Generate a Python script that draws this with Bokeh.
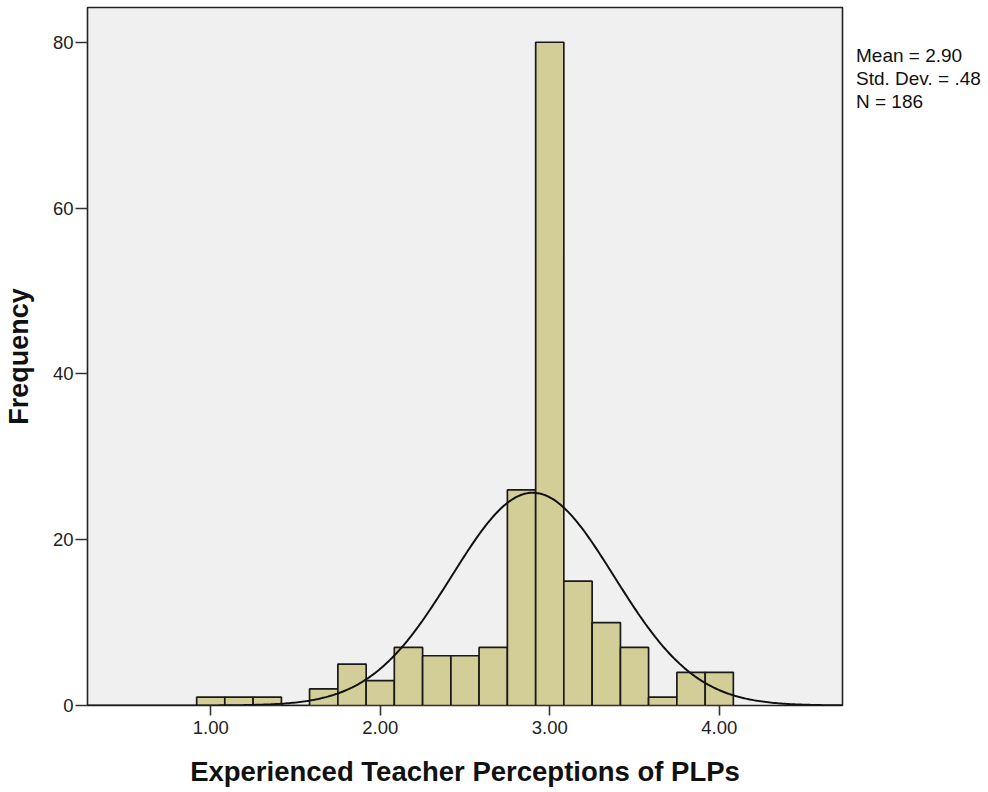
import numpy as np
from bokeh.plotting import figure
from bokeh.models import ColumnDataSource, Range1d, FixedTicker, Legend, LegendItem
from bokeh.embed import file_html
from bokeh.resources import INLINE

# ---- data ----
bin_edges = [0.917, 1.083, 1.250, 1.417, 1.583, 1.750, 1.917, 2.083, 2.250, 2.417,
             2.583, 2.750, 2.917, 3.083, 3.250, 3.417, 3.583, 3.750, 3.917, 4.083]
counts = [1, 1, 1, 0, 2, 5, 3, 7, 6, 6, 7, 26, 80, 15, 10, 7, 1, 4, 4]
x_ticks = [1.0, 2.0, 3.0, 4.0]
x_tick_labels = ["1.00", "2.00", "3.00", "4.00"]
y_ticks = [0, 20, 40, 60, 80]
stat_mean = 2.90
stat_sd = 0.48
stat_n = 186
stat_lines = ["Mean = 2.90", "Std. Dev. = .48", "N = 186"]
x_title = "Experienced Teacher Perceptions of PLPs"
y_title = "Frequency"

FONT = "Liberation Sans"

src = ColumnDataSource(dict(
    left=bin_edges[:-1],
    right=bin_edges[1:],
    top=counts,
    bottom=[0] * len(counts),
))

p = figure(
    frame_width=755, frame_height=698,
    min_border_left=81, min_border_right=136, min_border_top=7, min_border_bottom=86,
    x_range=Range1d(0.273, 4.727), y_range=Range1d(0, 84.19),
    output_backend="svg", toolbar_location=None,
    background_fill_color="#F0F0F0", border_fill_color="white",
)

p.quad(left="left", right="right", top="top", bottom="bottom", source=src,
       fill_color="#D3CE97", line_color="#1a1a1a", line_width=1.7)

# normal curve scaled to the histogram
bw = bin_edges[1] - bin_edges[0]
xs = np.linspace(0.273, 4.727, 400)
ys = stat_n * bw / (stat_sd * np.sqrt(2 * np.pi)) * np.exp(-0.5 * ((xs - stat_mean) / stat_sd) ** 2)
p.line(xs, ys, line_color="#111111", line_width=2)

p.xgrid.visible = False
p.ygrid.visible = False
p.outline_line_color = "#222222"
p.outline_line_width = 1.6

p.xaxis.ticker = FixedTicker(ticks=x_ticks)
p.xaxis.major_label_overrides = {t: l for t, l in zip(x_ticks, x_tick_labels)}
p.yaxis.ticker = FixedTicker(ticks=y_ticks)

for ax in (p.xaxis[0], p.yaxis[0]):
    ax.axis_line_color = None
    ax.minor_tick_line_color = None
    ax.major_tick_in = 0
    ax.major_tick_line_color = "#333333"
    ax.major_tick_line_width = 1.6
    ax.major_label_text_font = FONT
    ax.major_label_text_font_size = "18.5px"
    ax.major_label_text_color = "#222222"
    ax.axis_label_text_font = FONT
    ax.axis_label_text_font_style = "bold"
    ax.axis_label_text_color = "#111111"

p.xaxis.axis_label_text_font_size = "27.5px"
p.yaxis.axis_label_text_font_size = "27px"

p.xaxis.major_tick_out = 10
p.xaxis.major_label_standoff = 5
p.xaxis.axis_label = x_title
p.xaxis.axis_label_standoff = 19

p.yaxis.major_tick_out = 12
p.yaxis.major_label_standoff = 2
p.yaxis.axis_label = y_title
p.yaxis.axis_label_standoff = 16

# statistics text to the right of the frame (legend with invisible glyphs)
dummy = p.scatter([stat_mean], [0], size=0, alpha=0)
items = [LegendItem(label=s, renderers=[dummy]) for s in stat_lines]
leg = Legend(
    items=items, location=(14, 592), orientation="vertical",
    glyph_width=0, glyph_height=23, label_height=23, label_standoff=0,
    spacing=0, padding=0, margin=0,
    border_line_color=None, background_fill_alpha=0,
    label_text_font=FONT, label_text_font_size="19px", label_text_color="#111111",
)
p.add_layout(leg, "right")

open("out.html", "w").write(file_html(p, INLINE))
